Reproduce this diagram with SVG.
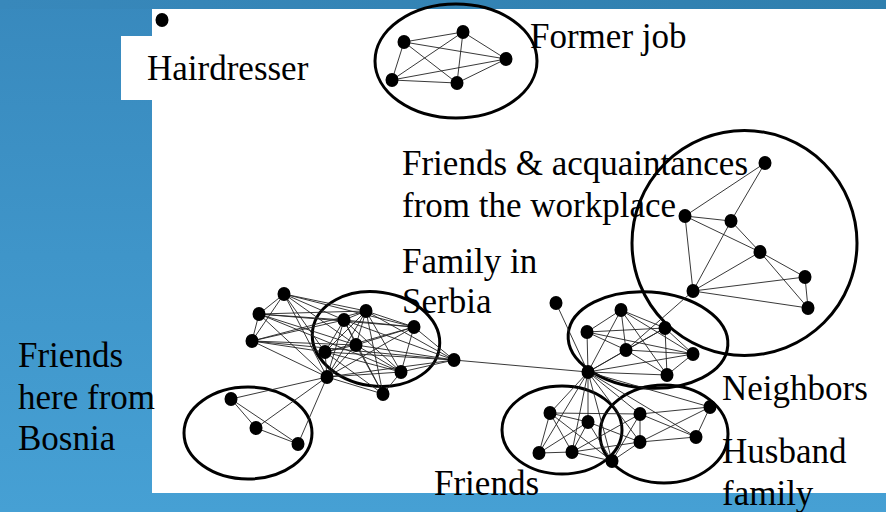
<svg xmlns="http://www.w3.org/2000/svg" width="886" height="512" viewBox="0 0 886 512">
  <defs>
    <linearGradient id="bg" x1="0" y1="0" x2="0" y2="1">
      <stop offset="0" stop-color="#3889bd"/>
      <stop offset="0.5" stop-color="#3f95c9"/>
      <stop offset="1" stop-color="#46a0d4"/>
    </linearGradient>
    <linearGradient id="band" x1="0" y1="0" x2="1" y2="0">
      <stop offset="0" stop-color="#3888bb"/>
      <stop offset="1" stop-color="#2f7fae"/>
    </linearGradient>
    <style>
      .group { fill: none; stroke: #000; stroke-width: 3; }
      .edge { stroke: #222; stroke-width: 0.9; fill: none; }
      .node { fill: #000; }
      .lbl { font-family: "Liberation Serif", "Times New Roman", serif; font-size: 35px; fill: #000; }
    </style>
  </defs>

  <!-- background and white canvas -->
  <rect x="0" y="0" width="886" height="512" fill="url(#bg)"/>
  <rect x="0" y="0" width="886" height="9" fill="url(#band)"/>
  <rect x="152" y="9" width="734" height="484" fill="#fff"/>
  <rect x="121" y="36" width="32" height="64" fill="#fff"/>

  <!-- group outlines -->
  <g id="outlines">
    <ellipse class="group" cx="456" cy="61" rx="81" ry="57"/>
    <circle class="group" cx="744.5" cy="243" r="112.5"/>
    <ellipse class="group" cx="376" cy="339" rx="64" ry="47" transform="rotate(8 376 339)"/>
    <ellipse class="group" cx="648" cy="340" rx="80" ry="48" transform="rotate(4 648 340)"/>
    <ellipse class="group" cx="248" cy="433" rx="64" ry="46"/>
    <ellipse class="group" cx="562" cy="430" rx="60" ry="44"/>
    <ellipse class="group" cx="664" cy="434" rx="64" ry="49"/>
  </g>

  <!-- connectors -->
  <g id="connectors" class="edge">
    <!-- former job -->
    <line x1="404" y1="42" x2="463" y2="32"/>
    <line x1="404" y1="42" x2="506" y2="59"/>
    <line x1="404" y1="42" x2="392" y2="80"/>
    <line x1="404" y1="42" x2="457" y2="83"/>
    <line x1="463" y1="32" x2="506" y2="59"/>
    <line x1="463" y1="32" x2="392" y2="80"/>
    <line x1="463" y1="32" x2="457" y2="83"/>
    <line x1="506" y1="59" x2="392" y2="80"/>
    <line x1="506" y1="59" x2="457" y2="83"/>
    <line x1="392" y1="80" x2="457" y2="83"/>
    <!-- workplace -->
    <line x1="765" y1="163" x2="685" y2="216"/>
    <line x1="765" y1="163" x2="731" y2="221"/>
    <line x1="685" y1="216" x2="731" y2="221"/>
    <line x1="685" y1="216" x2="760" y2="252"/>
    <line x1="685" y1="216" x2="693" y2="291"/>
    <line x1="731" y1="221" x2="760" y2="252"/>
    <line x1="731" y1="221" x2="693" y2="291"/>
    <line x1="760" y1="252" x2="693" y2="291"/>
    <line x1="760" y1="252" x2="805" y2="277"/>
    <line x1="760" y1="252" x2="808" y2="308"/>
    <line x1="805" y1="277" x2="808" y2="308"/>
    <line x1="805" y1="277" x2="693" y2="291"/>
    <line x1="808" y1="308" x2="693" y2="291"/>
    <line x1="693" y1="291" x2="626" y2="350"/>
    <!-- family in Serbia -->
    <line x1="284" y1="294" x2="259" y2="314"/>
    <line x1="284" y1="294" x2="252" y2="341"/>
    <line x1="284" y1="294" x2="344" y2="320"/>
    <line x1="284" y1="294" x2="366" y2="311"/>
    <line x1="284" y1="294" x2="414" y2="327"/>
    <line x1="284" y1="294" x2="356" y2="345"/>
    <line x1="284" y1="294" x2="327" y2="377"/>
    <line x1="284" y1="294" x2="325" y2="352"/>
    <line x1="259" y1="314" x2="252" y2="341"/>
    <line x1="259" y1="314" x2="344" y2="320"/>
    <line x1="259" y1="314" x2="366" y2="311"/>
    <line x1="259" y1="314" x2="414" y2="327"/>
    <line x1="259" y1="314" x2="327" y2="377"/>
    <line x1="259" y1="314" x2="401" y2="372"/>
    <line x1="259" y1="314" x2="356" y2="345"/>
    <line x1="252" y1="341" x2="344" y2="320"/>
    <line x1="252" y1="341" x2="366" y2="311"/>
    <line x1="252" y1="341" x2="327" y2="377"/>
    <line x1="252" y1="341" x2="454" y2="360"/>
    <line x1="252" y1="341" x2="325" y2="352"/>
    <line x1="252" y1="341" x2="356" y2="345"/>
    <line x1="344" y1="320" x2="366" y2="311"/>
    <line x1="344" y1="320" x2="414" y2="327"/>
    <line x1="344" y1="320" x2="356" y2="345"/>
    <line x1="344" y1="320" x2="325" y2="352"/>
    <line x1="344" y1="320" x2="327" y2="377"/>
    <line x1="344" y1="320" x2="401" y2="372"/>
    <line x1="344" y1="320" x2="383" y2="394"/>
    <line x1="344" y1="320" x2="454" y2="360"/>
    <line x1="366" y1="311" x2="414" y2="327"/>
    <line x1="366" y1="311" x2="356" y2="345"/>
    <line x1="366" y1="311" x2="325" y2="352"/>
    <line x1="366" y1="311" x2="327" y2="377"/>
    <line x1="366" y1="311" x2="401" y2="372"/>
    <line x1="366" y1="311" x2="383" y2="394"/>
    <line x1="366" y1="311" x2="454" y2="360"/>
    <line x1="414" y1="327" x2="356" y2="345"/>
    <line x1="414" y1="327" x2="327" y2="377"/>
    <line x1="414" y1="327" x2="401" y2="372"/>
    <line x1="414" y1="327" x2="454" y2="360"/>
    <line x1="414" y1="327" x2="325" y2="352"/>
    <line x1="356" y1="345" x2="325" y2="352"/>
    <line x1="356" y1="345" x2="327" y2="377"/>
    <line x1="356" y1="345" x2="401" y2="372"/>
    <line x1="356" y1="345" x2="383" y2="394"/>
    <line x1="356" y1="345" x2="454" y2="360"/>
    <line x1="325" y1="352" x2="327" y2="377"/>
    <line x1="325" y1="352" x2="401" y2="372"/>
    <line x1="325" y1="352" x2="383" y2="394"/>
    <line x1="325" y1="352" x2="454" y2="360"/>
    <line x1="327" y1="377" x2="401" y2="372"/>
    <line x1="327" y1="377" x2="383" y2="394"/>
    <line x1="327" y1="377" x2="454" y2="360"/>
    <line x1="401" y1="372" x2="383" y2="394"/>
    <line x1="401" y1="372" x2="454" y2="360"/>
    <line x1="454" y1="360" x2="588" y2="372"/>
    <!-- friends from Bosnia -->
    <line x1="231" y1="399" x2="256" y2="428"/>
    <line x1="231" y1="399" x2="298" y2="444"/>
    <line x1="256" y1="428" x2="298" y2="444"/>
    <line x1="231" y1="399" x2="327" y2="377"/>
    <line x1="256" y1="428" x2="327" y2="377"/>
    <line x1="298" y1="444" x2="327" y2="377"/>
    <!-- neighbors -->
    <line x1="556" y1="303" x2="588" y2="372"/>
    <line x1="621" y1="310" x2="587" y2="332"/>
    <line x1="621" y1="310" x2="665" y2="328"/>
    <line x1="621" y1="310" x2="626" y2="350"/>
    <line x1="621" y1="310" x2="693" y2="354"/>
    <line x1="621" y1="310" x2="588" y2="372"/>
    <line x1="621" y1="310" x2="667" y2="375"/>
    <line x1="587" y1="332" x2="665" y2="328"/>
    <line x1="587" y1="332" x2="626" y2="350"/>
    <line x1="587" y1="332" x2="693" y2="354"/>
    <line x1="587" y1="332" x2="588" y2="372"/>
    <line x1="665" y1="328" x2="626" y2="350"/>
    <line x1="665" y1="328" x2="693" y2="354"/>
    <line x1="665" y1="328" x2="667" y2="375"/>
    <line x1="665" y1="328" x2="588" y2="372"/>
    <line x1="626" y1="350" x2="693" y2="354"/>
    <line x1="626" y1="350" x2="588" y2="372"/>
    <line x1="626" y1="350" x2="667" y2="375"/>
    <line x1="693" y1="354" x2="588" y2="372"/>
    <line x1="693" y1="354" x2="667" y2="375"/>
    <line x1="667" y1="375" x2="588" y2="372"/>
    <!-- friends and husband family -->
    <line x1="588" y1="372" x2="550" y2="413"/>
    <line x1="588" y1="372" x2="588" y2="422"/>
    <line x1="588" y1="372" x2="539" y2="453"/>
    <line x1="588" y1="372" x2="572" y2="452"/>
    <line x1="588" y1="372" x2="612" y2="461"/>
    <line x1="588" y1="372" x2="640" y2="414"/>
    <line x1="588" y1="372" x2="710" y2="407"/>
    <line x1="588" y1="372" x2="696" y2="437"/>
    <line x1="588" y1="372" x2="640" y2="442"/>
    <line x1="550" y1="413" x2="588" y2="422"/>
    <line x1="550" y1="413" x2="539" y2="453"/>
    <line x1="550" y1="413" x2="572" y2="452"/>
    <line x1="550" y1="413" x2="612" y2="461"/>
    <line x1="550" y1="413" x2="640" y2="414"/>
    <line x1="588" y1="422" x2="539" y2="453"/>
    <line x1="588" y1="422" x2="572" y2="452"/>
    <line x1="588" y1="422" x2="612" y2="461"/>
    <line x1="588" y1="422" x2="640" y2="442"/>
    <line x1="539" y1="453" x2="572" y2="452"/>
    <line x1="572" y1="452" x2="612" y2="461"/>
    <line x1="572" y1="452" x2="640" y2="414"/>
    <line x1="572" y1="452" x2="640" y2="442"/>
    <line x1="612" y1="461" x2="640" y2="414"/>
    <line x1="612" y1="461" x2="640" y2="442"/>
    <line x1="640" y1="414" x2="710" y2="407"/>
    <line x1="640" y1="414" x2="640" y2="442"/>
    <line x1="640" y1="414" x2="696" y2="437"/>
    <line x1="710" y1="407" x2="640" y2="442"/>
    <line x1="710" y1="407" x2="696" y2="437"/>
    <line x1="696" y1="437" x2="640" y2="442"/>
  </g>

  <!-- nodes -->
  <g id="hairdresser"><ellipse class="node" cx="162" cy="20" rx="6.5" ry="7"/></g>
  <g id="former-job" class="node">
    <ellipse cx="404" cy="42" rx="6.5" ry="7"/>
    <ellipse cx="463" cy="32" rx="6.5" ry="7"/>
    <ellipse cx="506" cy="59" rx="6.5" ry="7"/>
    <ellipse cx="392" cy="80" rx="6.5" ry="7"/>
    <ellipse cx="457" cy="83" rx="6.5" ry="7"/>
  </g>
  <g id="workplace" class="node">
    <ellipse cx="765" cy="163" rx="6.5" ry="7"/>
    <ellipse cx="685" cy="216" rx="6.5" ry="7"/>
    <ellipse cx="731" cy="221" rx="6.5" ry="7"/>
    <ellipse cx="760" cy="252" rx="6.5" ry="7"/>
    <ellipse cx="805" cy="277" rx="6.5" ry="7"/>
    <ellipse cx="808" cy="308" rx="6.5" ry="7"/>
    <ellipse cx="693" cy="291" rx="6.5" ry="7"/>
  </g>
  <g id="serbia" class="node">
    <ellipse cx="284" cy="294" rx="6.5" ry="7"/>
    <ellipse cx="259" cy="314" rx="6.5" ry="7"/>
    <ellipse cx="252" cy="341" rx="6.5" ry="7"/>
    <ellipse cx="344" cy="320" rx="6.5" ry="7"/>
    <ellipse cx="366" cy="311" rx="6.5" ry="7"/>
    <ellipse cx="414" cy="327" rx="6.5" ry="7"/>
    <ellipse cx="356" cy="345" rx="6.5" ry="7"/>
    <ellipse cx="325" cy="352" rx="6.5" ry="7"/>
    <ellipse cx="327" cy="377" rx="6.5" ry="7"/>
    <ellipse cx="401" cy="372" rx="6.5" ry="7"/>
    <ellipse cx="383" cy="394" rx="6.5" ry="7"/>
    <ellipse cx="454" cy="360" rx="6.5" ry="7"/>
  </g>
  <g id="bosnia" class="node">
    <ellipse cx="231" cy="399" rx="6.5" ry="7"/>
    <ellipse cx="256" cy="428" rx="6.5" ry="7"/>
    <ellipse cx="298" cy="444" rx="6.5" ry="7"/>
  </g>
  <g id="neighbors" class="node">
    <ellipse cx="556" cy="303" rx="6.5" ry="7"/>
    <ellipse cx="621" cy="310" rx="6.5" ry="7"/>
    <ellipse cx="587" cy="332" rx="6.5" ry="7"/>
    <ellipse cx="665" cy="328" rx="6.5" ry="7"/>
    <ellipse cx="626" cy="350" rx="6.5" ry="7"/>
    <ellipse cx="693" cy="354" rx="6.5" ry="7"/>
    <ellipse cx="667" cy="375" rx="6.5" ry="7"/>
    <ellipse cx="588" cy="372" rx="6.5" ry="7"/>
  </g>
  <g id="friends" class="node">
    <ellipse cx="550" cy="413" rx="6.5" ry="7"/>
    <ellipse cx="588" cy="422" rx="6.5" ry="7"/>
    <ellipse cx="539" cy="453" rx="6.5" ry="7"/>
    <ellipse cx="572" cy="452" rx="6.5" ry="7"/>
    <ellipse cx="612" cy="461" rx="6.5" ry="7"/>
  </g>
  <g id="husband-family" class="node">
    <ellipse cx="640" cy="414" rx="6.5" ry="7"/>
    <ellipse cx="710" cy="407" rx="6.5" ry="7"/>
    <ellipse cx="696" cy="437" rx="6.5" ry="7"/>
    <ellipse cx="640" cy="442" rx="6.5" ry="7"/>
  </g>

  <!-- labels -->
  <g id="labels" class="lbl">
    <text x="147" y="80">Hairdresser</text>
    <text x="530" y="48">Former job</text>
    <text x="402" y="175">Friends &amp; acquaintances</text>
    <text x="402" y="217">from the workplace</text>
    <text x="402" y="273">Family in</text>
    <text x="402" y="313">Serbia</text>
    <text x="18" y="367">Friends</text>
    <text x="18" y="409">here from</text>
    <text x="18" y="450">Bosnia</text>
    <text x="722" y="400">Neighbors</text>
    <text x="722" y="463">Husband</text>
    <text x="722" y="505">family</text>
    <text x="434" y="495">Friends</text>
  </g>
</svg>
